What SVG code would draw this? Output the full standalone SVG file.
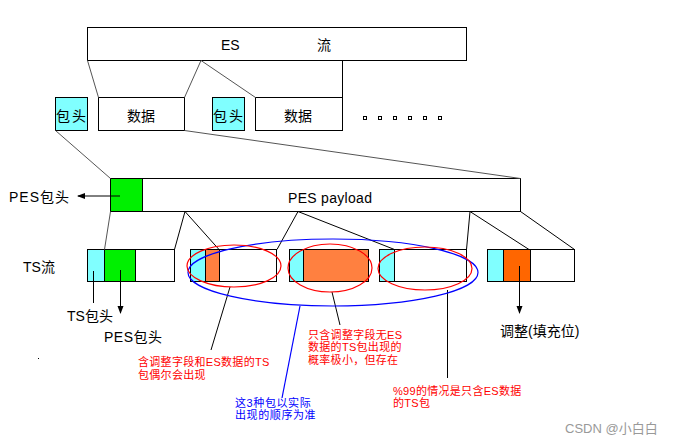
<svg xmlns="http://www.w3.org/2000/svg" width="677" height="445" viewBox="0 0 677 445">
<defs>
<style>
.box{fill:#fff;stroke:#000;stroke-width:1}
.cy{fill:#80FFFF;stroke:#000;stroke-width:1}
.gr{fill:#00F000;stroke:#000;stroke-width:1}
.or{fill:#FF8040;stroke:#000;stroke-width:1}
.or2{fill:#FF6600;stroke:#000;stroke-width:1}
.ln{stroke:#000;stroke-width:1;fill:none}
.gl{stroke:#555;stroke-width:1;fill:none}
.t{font-family:"Liberation Sans","Noto Sans CJK SC",sans-serif;font-size:14px;fill:#000}
.c{font-family:"Noto Sans CJK SC",sans-serif;font-size:14px;fill:#000}
.r{font-family:"Liberation Sans","Noto Sans CJK SC",sans-serif;font-size:11px;fill:#FF0000;letter-spacing:0.3px}
.b{font-family:"Liberation Sans","Noto Sans CJK SC",sans-serif;font-size:11px;fill:#0000FF;letter-spacing:0.6px}
.re{fill:none;stroke:#FF0000;stroke-width:1.2}
.be{fill:none;stroke:#0000FF;stroke-width:1.2}
</style>
<marker id="ah" viewBox="0 0 8 8" refX="7" refY="4" markerWidth="8" markerHeight="8" markerUnits="userSpaceOnUse" orient="auto">
<path d="M0,1 L8,4 L0,7 Z" fill="#000"/>
</marker>
</defs>

<g id="es-stream">
<rect class="box" x="87.5" y="27.5" width="379" height="33"/>
<line class="ln" x1="87" y1="27.5" x2="467" y2="27.5" stroke-width="2"/>
<text class="t" x="221" y="50">ES</text>
<text class="c" x="317" y="50">流</text>
</g>

<g id="pkt1-head">
<rect class="cy" x="55.5" y="97.5" width="32" height="33"/>
<text class="c" x="56" y="121" textLength="30">包头</text>
</g>
<g id="pkt1-data">
<rect class="box" x="98.5" y="97.5" width="86" height="33"/>
<text class="c" x="127" y="121">数据</text>
</g>
<g id="pkt2-head">
<rect class="cy" x="212.5" y="97.5" width="32" height="33"/>
<text class="c" x="213" y="121" textLength="30">包头</text>
</g>
<g id="pkt2-data">
<rect class="box" x="255.5" y="97.5" width="87" height="33"/>
<text class="c" x="284" y="121">数据</text>
</g>
<g id="dots" fill="#fff" stroke="#000" stroke-width="1">
<rect x="363.5" y="116.5" width="3" height="3"/>
<rect x="378.5" y="116.5" width="3" height="3"/>
<rect x="393.5" y="116.5" width="3" height="3"/>
<rect x="408.5" y="116.5" width="3" height="3"/>
<rect x="423.5" y="116.5" width="3" height="3"/>
<rect x="438.5" y="116.5" width="3" height="3"/>
</g>

<g id="pes">
<rect class="box" x="110.5" y="178.5" width="410" height="33"/>
<rect class="gr" x="110.5" y="178.5" width="32" height="33"/>
<line class="ln" x1="110" y1="178.5" x2="521" y2="178.5" stroke-width="2"/>
<text class="t" x="288" y="203" font-size="15" letter-spacing="0.3">PES payload</text>
</g>
<g id="pes-header-label">
<text class="t" x="9" y="202" letter-spacing="1">PES包头</text>
</g>

<g id="ts-label"><text class="t" x="23" y="272">TS流</text></g>

<g id="ts1">
<rect class="box" x="87.5" y="249.5" width="87" height="32"/>
<rect class="cy" x="87.5" y="249.5" width="17" height="32"/>
<rect class="gr" x="104.5" y="249.5" width="31" height="32"/>
<line class="ln" x1="174.5" y1="249" x2="174.5" y2="282" stroke-width="2"/>
</g>
<g id="ts2">
<rect class="box" x="190.5" y="249.5" width="86" height="32"/>
<rect class="cy" x="190.5" y="249.5" width="15" height="32"/>
<rect class="or" x="205.5" y="249.5" width="14" height="32"/>
</g>
<g id="ts3">
<rect class="or" x="289.5" y="249.5" width="79" height="32"/>
<rect class="cy" x="289.5" y="249.5" width="14" height="32"/>
</g>
<g id="ts4">
<rect class="box" x="379.5" y="249.5" width="87" height="32"/>
<rect class="cy" x="379.5" y="249.5" width="15" height="32"/>
<line class="ln" x1="394.5" y1="249" x2="394.5" y2="282" stroke-width="2"/>
</g>
<g id="ts5">
<rect class="box" x="487.5" y="249.5" width="87" height="32"/>
<rect class="cy" x="487.5" y="249.5" width="16" height="32"/>
<rect class="or2" x="503.5" y="249.5" width="27" height="32"/>
<line class="ln" x1="530.5" y1="249" x2="530.5" y2="282" stroke-width="2"/>
</g>

<g id="connectors">
<line class="gl" x1="87.5" y1="60.5" x2="98.5" y2="97.5"/>
<line class="gl" x1="201" y1="60.5" x2="184.5" y2="97.5"/>
<line class="gl" x1="201" y1="60.5" x2="255.5" y2="97.5"/>
<line class="ln" x1="342.5" y1="60.5" x2="342.5" y2="97.5"/>
<line class="gl" x1="55.5" y1="130.5" x2="110.5" y2="178.5"/>
<line class="gl" x1="184.5" y1="130.5" x2="520.5" y2="178.5"/>
<line class="gl" x1="110.5" y1="211.5" x2="104.5" y2="249.5"/>
<line class="ln" x1="185" y1="211.5" x2="174.5" y2="249.5"/>
<line class="ln" x1="185" y1="211.5" x2="219" y2="249.5"/>
<line class="ln" x1="298" y1="211.5" x2="277" y2="249.5"/>
<line class="ln" x1="298" y1="211.5" x2="394.5" y2="249.5"/>
<line class="ln" x1="470" y1="211.5" x2="466.5" y2="249.5"/>
<line class="ln" x1="470" y1="211.5" x2="529" y2="249.5"/>
<line class="ln" x1="520.5" y1="211.5" x2="574.5" y2="249.5"/>
<line class="ln" x1="120" y1="196" x2="78" y2="196" marker-end="url(#ah)"/>
<line class="ln" x1="93.5" y1="271" x2="93.5" y2="303"/>
<line class="ln" x1="120.5" y1="270" x2="120.5" y2="313" marker-end="url(#ah)"/>
<line class="ln" x1="519.5" y1="266" x2="519.5" y2="313" marker-end="url(#ah)"/>
<line class="ln" x1="230" y1="287" x2="211" y2="350"/>
<line class="ln" x1="332" y1="292" x2="340" y2="325"/>
<line class="ln" x1="447.5" y1="290" x2="447.5" y2="378"/>
<line x1="300" y1="306" x2="282" y2="398" stroke="#0000FF" stroke-width="1.2"/>
</g>

<g id="ellipses">
<ellipse class="be" cx="333" cy="272.5" rx="145" ry="33.5"/>
<ellipse class="re" cx="234" cy="266" rx="47" ry="21"/>
<ellipse class="re" cx="330" cy="268" rx="42" ry="24"/>
<ellipse class="re" cx="425" cy="268.5" rx="47" ry="21.5"/>
</g>

<g id="labels">
<text class="t" x="67" y="321">TS包头</text>
<text class="t" x="104" y="342" letter-spacing="0.5">PES包头</text>
<text class="t" x="500" y="336">调整(填充位)</text>
<text class="r" x="138" y="366"><tspan x="138" y="366">含调整字段和ES数据的TS</tspan><tspan x="138" y="378.5">包偶尔会出现</tspan></text>
<text class="r" x="308" y="338.5"><tspan x="308" y="338.5">只含调整字段无ES</tspan><tspan x="308" y="351">数据的TS包出现的</tspan><tspan x="308" y="363.5">概率极小，但存在</tspan></text>
<text class="r" x="393" y="394.5"><tspan x="393" y="394.5">%99的情况是只含ES数据</tspan><tspan x="393" y="407">的TS包</tspan></text>
<text class="b" x="235" y="406.5"><tspan x="235" y="406.5">这3种包以实际</tspan><tspan x="235" y="419">出现的顺序为准</tspan></text>
<rect x="38" y="358" width="1" height="1" fill="#000"/>
<text x="565" y="433" font-family="Liberation Sans,Noto Sans CJK SC,sans-serif" font-size="13" fill="#999">CSDN @小白白</text>
</g>
</svg>
